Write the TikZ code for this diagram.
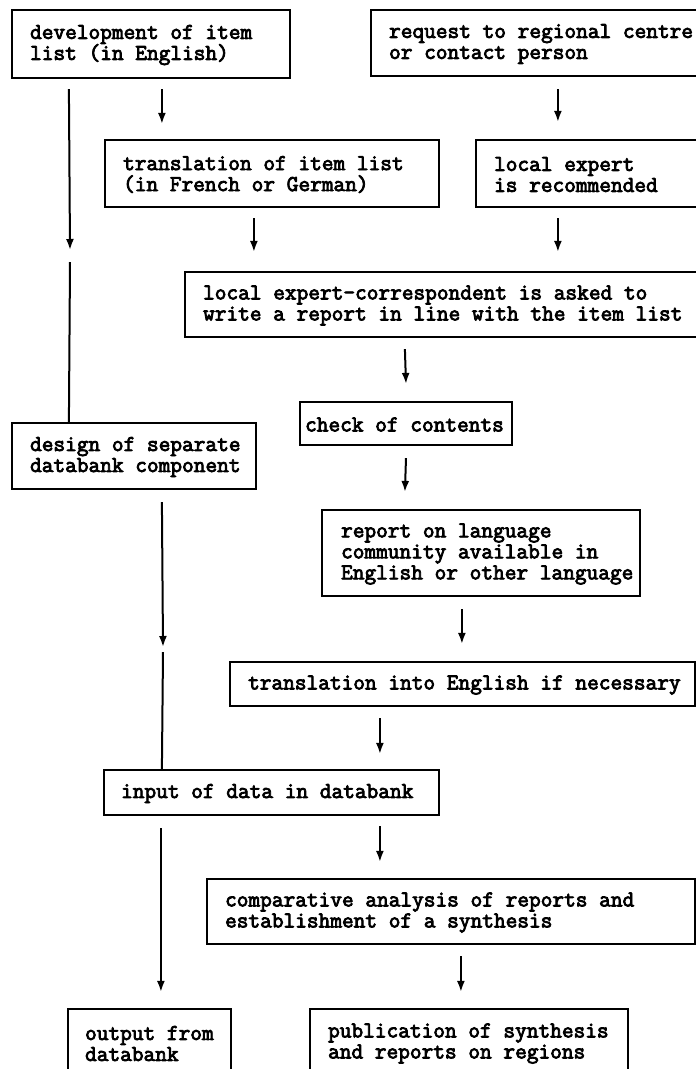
\documentclass[tikz,border=0pt]{standalone}
\usepackage{fontspec}
\setmonofont{Latin Modern Mono}[AutoFakeBold=3.5]
\usetikzlibrary{arrows.meta}
\begin{document}
\begin{tikzpicture}[x=1pt,y=-1pt,
  box/.style={draw, line width=2.2pt, inner sep=0pt},
  txt/.style={anchor=west, inner sep=0pt, align=left, font=\ttfamily\bfseries\fontsize{22.7}{21}\selectfont},
  arr/.style={line width=2pt, -{Latex[length=11pt,width=8pt]}},
  ln/.style={line width=2pt}]
\useasboundingbox (0,0) rectangle (696,1069);
\clip (0,0) rectangle (696,1069);
% boxes
\node[box, minimum width=278pt, minimum height=68pt] (b1) at (151,44) {};
\node[txt] (t1) at ([xshift=19pt,yshift=-1pt]b1.west) {development of item\\list (in English)};
\node[box, minimum width=369pt, minimum height=66pt] (b2) at (555.5,43) {};
\node[txt] (t2) at ([xshift=19pt,yshift=-1pt]b2.west) {request to regional centre\\or contact person};
\node[box, minimum width=334pt, minimum height=67pt] (b3) at (272,173.5) {};
\node[txt] (t3) at ([xshift=19pt,yshift=-1pt]b3.west) {translation of item list\\(in French or German)};
\node[box, minimum width=264pt, minimum height=67pt] (b4) at (608,173.5) {};
\node[txt] (t4) at ([xshift=19pt,yshift=-1pt]b4.west) {local expert\\is recommended};
\node[box, minimum width=555pt, minimum height=65pt] (b5) at (462.5,304.5) {};
\node[txt] (t5) at ([xshift=19pt,yshift=-1pt]b5.west) {local expert-correspondent is asked to\\write a report in line with the item list};
\node[box, minimum width=212pt, minimum height=43pt] (chk) at (406,423.5) {};
\node[txt] (tchk) at ([xshift=6pt,yshift=-1pt]chk.west) {check of contents};
\node[box, minimum width=244pt, minimum height=66pt] (des) at (134,456) {};
\node[txt] (tdes) at ([xshift=19pt,yshift=-1pt]des.west) {design of separate\\databank component};
\node[box, minimum width=318pt, minimum height=86pt] (rep) at (481,553) {};
\node[txt] (trep) at ([xshift=20pt,yshift=-1pt]rep.west) {report on language\\community available in\\English or other language};
\node[box, minimum width=465pt, minimum height=44pt] (tr2) at (462.5,684) {};
\node[txt] (ttr2) at ([xshift=19pt,yshift=-1pt]tr2.west) {translation into English if necessary};
\node[box, minimum width=335pt, minimum height=45pt] (inp) at (271.5,792.5) {};
\node[txt] (tinp) at ([xshift=18pt,yshift=-1pt]inp.west) {input of data in databank};
\node[box, minimum width=488pt, minimum height=65pt] (cmp) at (451,911.5) {};
\node[txt] (tcmp) at ([xshift=19pt,yshift=-1pt]cmp.west) {comparative analysis of reports and\\establishment of a synthesis};
\node[box, minimum width=163pt, minimum height=67pt] (out) at (149.5,1042.5) {};
\node[txt] (tout) at ([xshift=18pt,yshift=-1pt]out.west) {output from\\databank};
\node[box, minimum width=318pt, minimum height=67pt] (pub) at (469,1042.5) {};
\node[txt] (tpub) at ([xshift=19pt,yshift=-1pt]pub.west) {publication of synthesis\\and reports on regions};
% gap coordinates on the long left lines
\coordinate (g1) at (70,250);
\coordinate (g1b) at (70,262);
\coordinate (g2) at (163,647);
\coordinate (g2b) at (163,652);
% connectors
\draw[arr] ([xshift=58pt,yshift=-10pt]b1.south west) -- (g1);
\draw[ln] (g1b) -- ([xshift=58pt]des.north west);
\draw[arr] ([xshift=151pt,yshift=-10pt]b1.south west) -- ([xshift=58pt,yshift=15pt]b3.north west);
\draw[arr] ([xshift=188pt,yshift=-12pt]b2.south west) -- ([xshift=83pt,yshift=17pt]b4.north west);
\draw[arr] ([xshift=150pt,yshift=-10pt]b3.south west) -- ([xshift=70pt,yshift=19pt]b5.north west);
\draw[arr] ([xshift=83pt,yshift=-10pt]b4.south west) -- ([xshift=374pt,yshift=19pt]b5.north west);
\draw[arr] ([xshift=221pt,yshift=-11pt]b5.south west) -- ([yshift=17pt]chk.north);
\draw[arr] ([yshift=-12pt]chk.south) -- ([xshift=84pt,yshift=17pt]rep.north west);
\draw[arr] ([xshift=151pt,yshift=-12pt]des.south west) -- (g2);
\draw[ln] (g2b) -- ([xshift=59pt]inp.north west);
\draw[arr] ([xshift=141pt,yshift=-12pt]rep.south west) -- ([xshift=233pt,yshift=17pt]tr2.north west);
\draw[arr] ([xshift=151pt,yshift=-11pt]tr2.south west) -- ([xshift=277pt,yshift=15pt]inp.north west);
\draw[arr] ([xshift=58pt,yshift=-12pt]inp.south west) -- ([xshift=94pt,yshift=16pt]out.north west);
\draw[arr] ([xshift=277pt,yshift=-10pt]inp.south west) -- ([xshift=174pt,yshift=16pt]cmp.north west);
\draw[arr] ([xshift=255pt,yshift=-11pt]cmp.south west) -- ([xshift=152pt,yshift=16pt]pub.north west);
\end{tikzpicture}
\end{document}
